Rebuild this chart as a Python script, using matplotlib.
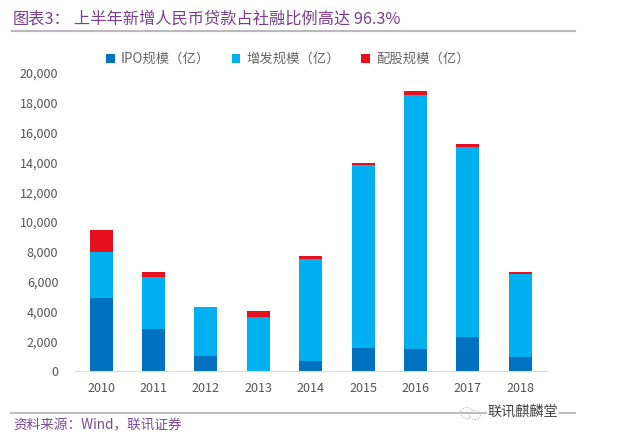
import matplotlib
matplotlib.use("Agg")
import matplotlib.pyplot as plt
from matplotlib.lines import Line2D
from matplotlib.patches import Ellipse
from matplotlib.ticker import FuncFormatter

plt.rcParams['font.family'] = ['Noto Sans CJK SC', 'DejaVu Sans']

years = ['2010','2011','2012','2013','2014','2015','2016','2017','2018']
ipo = [4920,2800,1010,0,670,1565,1490,2280,960]
additional = [3070,3490,3265,3600,6870,12290,17010,12750,5530]
rights = [1470,370,45,430,180,90,270,205,175]
series_names = ['IPO规模（亿）','增发规模（亿）','配股规模（亿）']
W, H = 619, 446
PURPLE = '#7B3F8F'

fig = plt.figure(figsize=(W/100, H/100), dpi=100, facecolor='white')
ax = fig.add_axes([75/W, 1-371/H, 471.5/W, 298/H])
x = list(range(len(years)))
bw = 0.44
b1 = ax.bar(x, ipo, bw, color='#0070C0', label=series_names[0])
b2 = ax.bar(x, additional, bw, bottom=ipo, color='#00B0F0', label=series_names[1])
bot = [a+b for a, b in zip(ipo, additional)]
b3 = ax.bar(x, rights, bw, bottom=bot, color='#E8101C', label=series_names[2])
ax.set_xlim(-0.5, 8.5)
ax.set_ylim(0, 20000)
ax.set_yticks(range(0, 20001, 2000))
ax.yaxis.set_major_formatter(FuncFormatter(lambda v, _: f'{int(v):,}'))
ax.set_xticks(x, years)
ax.tick_params(length=0, labelsize=9, labelcolor='#555555')
ax.tick_params(axis='x', pad=8)
ax.tick_params(axis='y', pad=12)
for s in ['top', 'right', 'left']:
    ax.spines[s].set_visible(False)
ax.spines['bottom'].set_color('#D5DCE4')

fig.legend(handles=[b1, b2, b3], loc='center', bbox_to_anchor=(288/W, 1-59/H), ncol=3,
           frameon=False, fontsize=9.6, handlelength=0.65, handleheight=0.65,
           columnspacing=1.6, handletextpad=0.45, labelcolor='#666666')

fig.text(13/W, 1-19/H, '图表3：', fontsize=11.7, color=PURPLE, va='center', fontweight='medium')
fig.text(74/W, 1-19/H, '上半年新增人民币贷款占社融比例高达 96.3%', fontsize=11.7,
         color=PURPLE, va='center', fontweight='medium')
fig.text(13/W, 1-425/H, '资料来源：Wind，联讯证券', fontsize=9.8, color='#7B4A9A',
         va='center', style='italic')
fig.add_artist(Line2D([12/W, 575/W], [1-31/H, 1-31/H], color='#BDB8BD', lw=1.5))
fig.add_artist(Line2D([11/W, 575/W], [1-413/H, 1-413/H], color='#BDBDBD', lw=1.5))

# watermark: dotted speech bubbles, then the account name over the rule
fig.add_artist(Ellipse((467/W, 1-413/H), 13/W, 11/H, transform=fig.transFigure,
                       facecolor='white', edgecolor='#999999', lw=0.6, ls=':'))
fig.add_artist(Ellipse((475/W, 1-415/H), 11/W, 9/H, transform=fig.transFigure,
                       facecolor='white', edgecolor='#999999', lw=0.6, ls=':'))
fig.text(523/W, 1-412/H, '联讯麒麟堂', fontsize=10.2, color='#444444', va='center', ha='center',
         bbox=dict(facecolor='white', edgecolor='none', pad=0.5))
fig.savefig('out.png', dpi=100)
